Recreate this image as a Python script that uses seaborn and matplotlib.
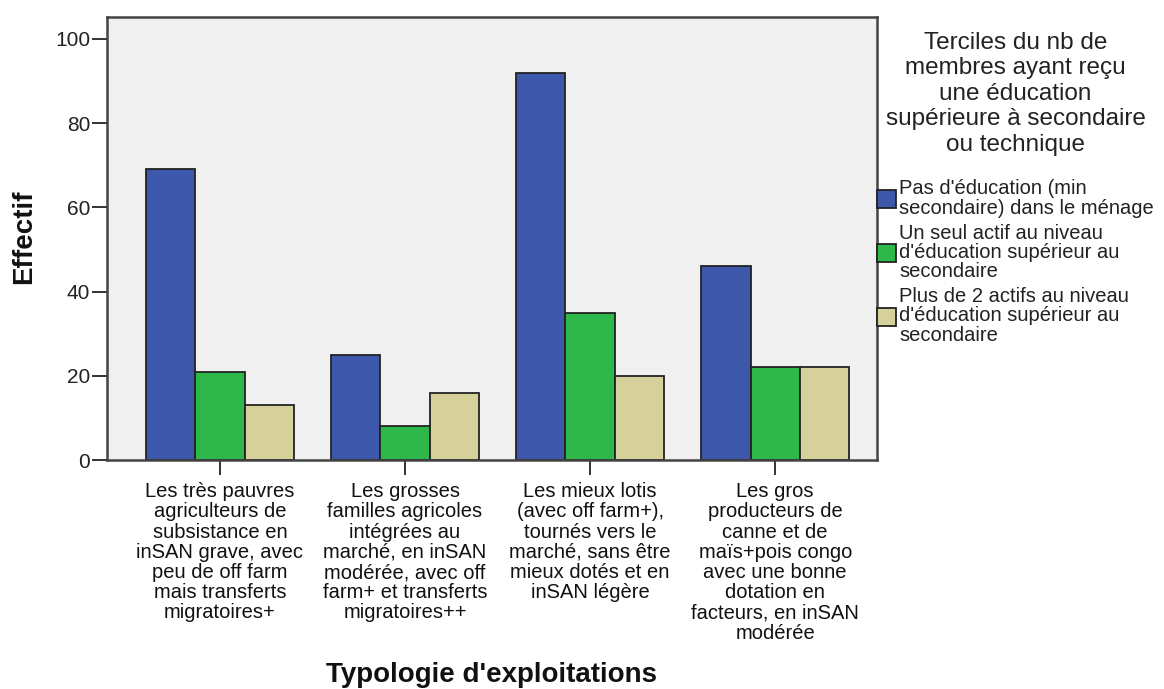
import matplotlib
matplotlib.use("Agg")
import matplotlib.pyplot as plt
import seaborn as sns
import pandas as pd
from matplotlib.patches import Patch

categories = [
    "Les très pauvres\nagriculteurs de\nsubsistance en\ninSAN grave, avec\npeu de off farm\nmais transferts\nmigratoires+",
    "Les grosses\nfamilles agricoles\nintégrées au\nmarché, en inSAN\nmodérée, avec off\nfarm+ et transferts\nmigratoires++",
    "Les mieux lotis\n(avec off farm+),\ntournés vers le\nmarché, sans être\nmieux dotés et en\ninSAN légère",
    "Les gros\nproducteurs de\ncanne et de\nmaïs+pois congo\navec une bonne\ndotation en\nfacteurs, en inSAN\nmodérée",
]
series_names = [
    "Pas d'éducation (min\nsecondaire) dans le ménage",
    "Un seul actif au niveau\nd'éducation supérieur au\nsecondaire",
    "Plus de 2 actifs au niveau\nd'éducation supérieur au\nsecondaire",
]
pas_education = [69, 25, 92, 46]
un_seul_actif = [21, 8, 35, 22]
plus_de_2 = [13, 16, 20, 22]
yticks = [0, 20, 40, 60, 80, 100]
legend_title = "Terciles du nb de\nmembres ayant reçu\nune éducation\nsupérieure à secondaire\nou technique"
colors = ["#3D57AB", "#2EB84B", "#D6D19B"]

rows = []
for vals, name in zip([pas_education, un_seul_actif, plus_de_2], series_names):
    for c, v in zip(categories, vals):
        rows.append({"cat": c, "serie": name, "val": v})
df = pd.DataFrame(rows)

sns.set_style("white")
plt.rcParams["font.family"] = ["Liberation Sans", "DejaVu Sans"]

fig = plt.figure(figsize=(11.64, 6.89), dpi=100)
ax = fig.add_axes([107/1164, 1 - 460/689, (877-107)/1164, (460-17)/689])
ax.set_facecolor("#F0F0F0")

sns.barplot(data=df, x="cat", y="val", hue="serie", order=categories,
            hue_order=series_names, palette=colors, width=0.8,
            edgecolor="#222222", linewidth=1.3, ax=ax, legend=False, saturation=1)

ax.set_xlim(-0.61, 3.55)
ax.set_ylim(0, 105.2)
ax.set_yticks(yticks)
ax.set_yticklabels([str(t) for t in yticks], fontsize=15, color="#222222")
ax.tick_params(axis="both", direction="out", length=11, width=1.4, color="#333333",
               left=True, bottom=True)
ax.tick_params(axis="x", pad=5)
ax.tick_params(axis="y", pad=1)
ax.set_xticks(range(len(categories)))
ax.set_xticklabels(categories, fontsize=14.5, linespacing=1.08, color="#111111")
for s in ax.spines.values():
    s.set_visible(True)
    s.set_color("#444444")
    s.set_linewidth(1.8)

ax.set_ylabel("")
ax.set_xlabel("")
fig.text(24/1164, 1 - 237/689, "Effectif", fontsize=20, fontweight="bold",
         rotation=90, ha="center", va="center", color="#111111")
fig.text(492/1164, 1 - 675/689, "Typologie d'exploitations", fontsize=20,
         fontweight="bold", ha="center", va="center", color="#111111")

handles = [Patch(facecolor=c, edgecolor="#222222", linewidth=1.3) for c in colors]
leg = fig.legend(handles, series_names, title=legend_title, loc="upper left",
                 bbox_to_anchor=(877/1164, 1 - 32/689), frameon=False,
                 fontsize=14.5, title_fontsize=17.5, handlelength=0.95, handleheight=1.0,
                 handletextpad=0.15, labelspacing=0.3, borderaxespad=0, borderpad=0)
leg.get_title().set_multialignment("center")
leg.get_title().set_linespacing(1.2)
leg.get_title().set_color("#222222")
for t in leg.get_texts():
    t.set_linespacing(1.02)
    t.set_color("#222222")
leg._legend_box.align = "center"
leg._legend_box.sep = 17

fig.savefig("out.png", dpi=100)
